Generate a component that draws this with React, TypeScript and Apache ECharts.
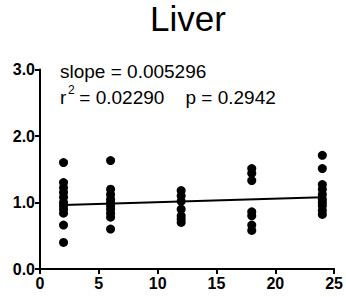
import React, { useEffect, useRef } from "react";
import * as echarts from "echarts";

const xGroups = [2, 6, 12, 18, 24];
const values2 = [1.6, 1.3, 1.22, 1.15, 1.08, 1.0, 0.95, 0.9, 0.84, 0.66, 0.4];
const values6 = [1.63, 1.2, 1.12, 1.05, 1.0, 0.95, 0.9, 0.84, 0.78, 0.6];
const values12 = [1.18, 1.1, 1.02, 0.9, 0.8, 0.75, 0.7];
const values18 = [1.51, 1.44, 1.33, 0.86, 0.8, 0.66, 0.58];
const values24 = [1.71, 1.51, 1.27, 1.2, 1.12, 1.05, 1.0, 0.95, 0.88, 0.82];
const groupValues = [values2, values6, values12, values18, values24];
const slope = 0.005296;
const intercept = 0.95;
const yTicks = [0, 1, 2, 3];
const xTicks = [0, 5, 10, 15, 20, 25];

export default function App() {
  const ref = useRef<HTMLDivElement>(null);
  useEffect(() => {
    if (!ref.current) return;
    const chart = echarts.init(ref.current, undefined, { renderer: "svg" });
    const points: number[][] = [];
    groupValues.forEach((vals, i) => vals.forEach((v) => points.push([xGroups[i], v])));
    const x0 = xGroups[0];
    const x1 = xGroups[xGroups.length - 1];
    const fit = [
      [x0, intercept + slope * x0],
      [x1, intercept + slope * x1],
    ];
    const font = "'Liberation Sans', Arial, sans-serif";
    const txt = (text: string, left: number, top: number, size: number) => ({
      type: "text",
      left,
      top,
      style: { text, fontFamily: font, fontSize: size, fill: "#000" },
    });
    chart.setOption({
      animation: false,
      graphic: [
        txt("Liver", 150, 1, 35),
        txt("slope = 0.005296", 60, 62, 19),
        txt("r", 60, 88, 19),
        txt("2", 68, 84, 12),
        txt(" = 0.02290    p = 0.2942", 74, 88, 19),
      ],
      grid: { left: 40, right: 6, top: 69.5, bottom: 28, containLabel: false },
      xAxis: {
        type: "value",
        min: xTicks[0],
        max: xTicks[xTicks.length - 1],
        interval: 5,
        axisLine: { show: true, onZero: false, lineStyle: { color: "#000", width: 2 } },
        axisTick: { show: true, length: 5, lineStyle: { color: "#000", width: 2 } },
        axisLabel: { color: "#000", fontFamily: font, fontSize: 16, fontWeight: "bold", margin: 6 },
        splitLine: { show: false },
      },
      yAxis: {
        type: "value",
        min: yTicks[0],
        max: yTicks[yTicks.length - 1],
        interval: 1,
        axisLine: { show: true, onZero: false, lineStyle: { color: "#000", width: 2 } },
        axisTick: { show: true, length: 5, lineStyle: { color: "#000", width: 2 } },
        axisLabel: {
          color: "#000",
          fontFamily: font,
          fontSize: 16,
          fontWeight: "bold",
          margin: 5,
          formatter: (v: number) => v.toFixed(1),
        },
        splitLine: { show: false },
      },
      series: [
        {
          type: "scatter",
          data: points,
          symbol: "circle",
          symbolSize: 9,
          itemStyle: { color: "#000", opacity: 1 },
          z: 3,
        },
        {
          type: "line",
          data: fit,
          showSymbol: false,
          symbol: "none",
          lineStyle: { color: "#000", width: 2 },
          z: 2,
        },
      ],
    });
    return () => chart.dispose();
  }, []);
  return (
    <div
      ref={ref}
      style={{ position: "fixed", left: 0, top: 0, width: 346, height: 297, background: "#fff" }}
    />
  );
}
